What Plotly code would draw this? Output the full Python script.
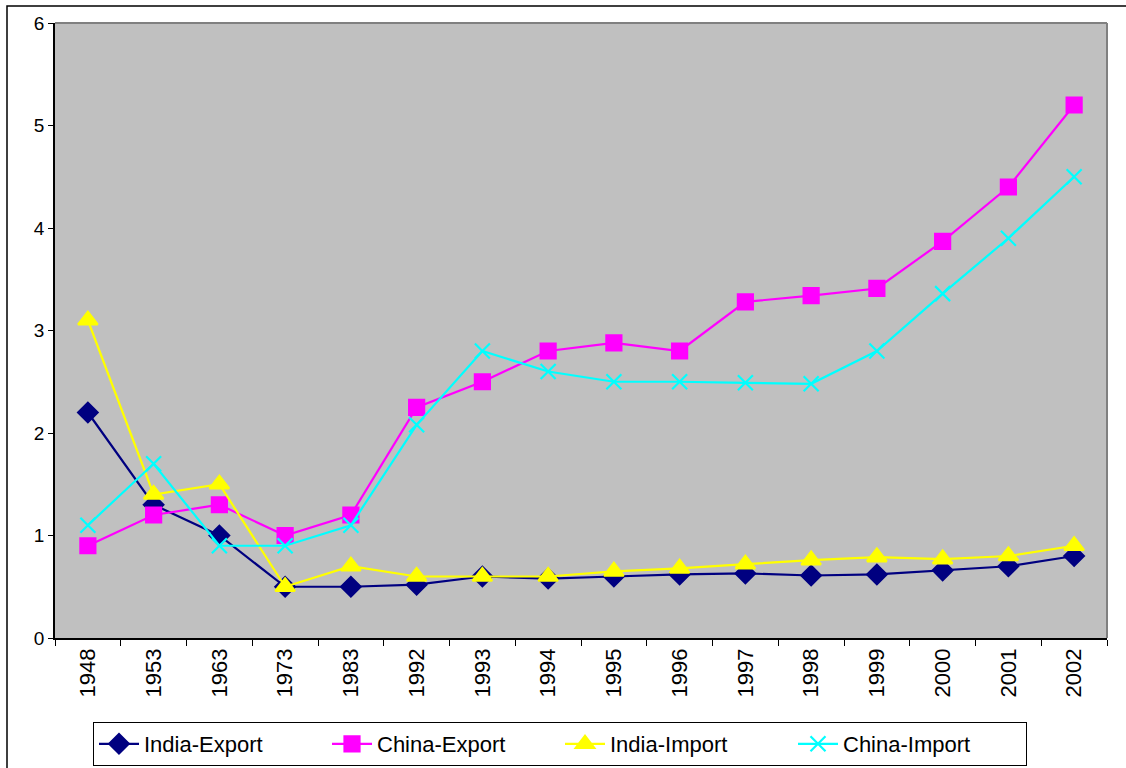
import plotly.graph_objects as go

years = ["1948", "1953", "1963", "1973", "1983", "1992", "1993", "1994",
         "1995", "1996", "1997", "1998", "1999", "2000", "2001", "2002"]
india_export = [2.2, 1.3, 1.0, 0.5, 0.5, 0.52, 0.6, 0.58, 0.6, 0.62, 0.63, 0.61, 0.62, 0.66, 0.7, 0.8]
china_export = [0.9, 1.2, 1.3, 1.0, 1.2, 2.25, 2.5, 2.8, 2.88, 2.8, 3.28, 3.34, 3.41, 3.87, 4.4, 5.2]
india_import = [3.1, 1.4, 1.5, 0.5, 0.7, 0.6, 0.6, 0.6, 0.65, 0.68, 0.72, 0.76, 0.79, 0.77, 0.8, 0.9]
china_import = [1.1, 1.7, 0.9, 0.9, 1.1, 2.08, 2.8, 2.6, 2.5, 2.5, 2.49, 2.48, 2.8, 3.36, 3.9, 4.5]

series = [
    ("India-Export", india_export, "#000080", "diamond", 15),
    ("China-Export", china_export, "#FF00FF", "square", 15),
    ("India-Import", india_import, "#FFFF00", "triangle-up", 17),
    ("China-Import", china_import, "#00FFFF", "x-thin-open", 15),
]

fig = go.Figure()
for name, vals, color, sym, size in series:
    fig.add_trace(go.Scatter(
        x=years, y=vals, name=name, mode="lines+markers",
        line=dict(color=color, width=2.2),
        marker=dict(symbol=sym, size=size, color=color,
                    line=dict(color=color, width=2.2)),
    ))

L, R, T, B = 55, 1107, 23, 638
W, H = 1126, 768

def px_x(p):
    return (p - L) / (R - L)

def px_y(p):
    return (B - p) / (B - T)

fig.update_layout(
    width=W, height=H,
    margin=dict(l=L, r=W - R, t=T, b=H - B, autoexpand=False),
    paper_bgcolor="white",
    plot_bgcolor="#C0C0C0",
    font=dict(family="Liberation Sans, Arial, sans-serif", color="black"),
    showlegend=True,
    legend=dict(
        orientation="h", x=px_x(93), xanchor="left", y=px_y(722), yanchor="top",
        bgcolor="white", bordercolor="black", borderwidth=1,
        font=dict(size=22), itemwidth=40,
        entrywidth=178, entrywidthmode="pixels",
    ),
    xaxis=dict(
        type="category", range=[-0.5, len(years) - 0.5], automargin=False,
        showgrid=False, zeroline=False,
        showline=True, linecolor="black", linewidth=1.5,
        ticks="outside", tickson="boundaries", ticklen=6, tickcolor="black",
        tickangle=-90, tickfont=dict(size=22),
    ),
    yaxis=dict(
        range=[0, 6], dtick=1, automargin=False,
        showgrid=False, zeroline=False,
        showline=True, linecolor="black", linewidth=1.5,
        ticks="outside", ticklen=5, tickcolor="black",
        tickfont=dict(size=19),
    ),
    shapes=[
        dict(type="line", xref="paper", yref="paper", x0=0, x1=1, y0=1, y1=1,
             line=dict(color="#808080", width=2), layer="above"),
        dict(type="line", xref="paper", yref="paper", x0=1, x1=1, y0=0, y1=1,
             line=dict(color="#808080", width=2), layer="above"),
        dict(type="rect", xref="paper", yref="paper",
             x0=px_x(7), x1=px_x(1140), y0=px_y(6), y1=px_y(790),
             line=dict(color="black", width=1.5), layer="above"),
    ],
)

fig.write_html("out.html")
